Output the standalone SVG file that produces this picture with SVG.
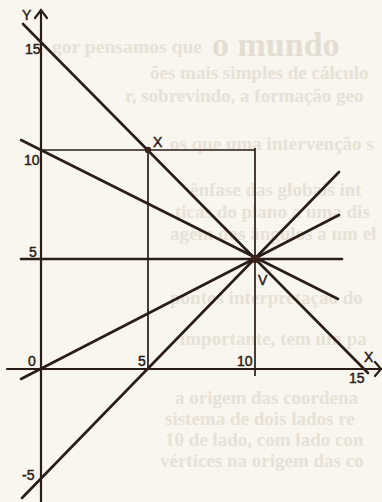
<svg xmlns="http://www.w3.org/2000/svg" width="382" height="502" viewBox="0 0 382 502">
  <style>
    .bg { fill: #f9f6ef; }
    .ghost { font-family: "Liberation Serif", serif; font-size: 19px; font-weight: bold; fill: #e7e1d6; }
    .ghostbig { font-family: "Liberation Serif", serif; font-size: 34px; font-weight: bold; fill: #e4ddd1; }
    .axis { stroke: #2a1c16; stroke-width: 2.2; fill: none; stroke-linecap: round; }
    .ray { stroke: #2a1c16; stroke-width: 2.6; fill: none; stroke-linecap: round; }
    .guide { stroke: #2a1c16; stroke-width: 1.7; fill: none; }
    .lbl { font-family: "Liberation Sans", "DejaVu Sans", sans-serif; font-size: 14px; fill: #2a1c16; stroke: #2a1c16; stroke-width: 0.45; }
    .dot { fill: #3a2218; }
  </style>
  <rect class="bg" x="0" y="0" width="382" height="502"/>

  <g id="bleed-through">
    <text class="ghostbig" x="212" y="56">o mundo</text>
    <text class="ghost" x="52" y="53" textLength="150" lengthAdjust="spacingAndGlyphs">gor pensamos que</text>
    <text class="ghost" x="150" y="79">ões mais simples de cálculo</text>
    <text class="ghost" x="125" y="102">r, sobrevindo, a formação geo</text>
    <text class="ghost" x="170" y="150">os que uma intervenção s</text>
    <text class="ghost" x="190" y="196">ênfase das globais int</text>
    <text class="ghost" x="175" y="218">ticas do plano a uma dis</text>
    <text class="ghost" x="170" y="240">agem dos ângulos a um el</text>
    <text class="ghost" x="170" y="304">pontos interpretação do</text>
    <text class="ghost" x="180" y="345">importante, tem um pa</text>
    <text class="ghost" x="175" y="404">a origem das coordena</text>
    <text class="ghost" x="165" y="425">sistema de dois lados re</text>
    <text class="ghost" x="165" y="446">10 de lado, com lado con</text>
    <text class="ghost" x="160" y="467">vértices na origem das co</text>
  </g>

  <g id="axes">
    <line class="axis" x1="41" y1="10" x2="41" y2="502"/>
    <polyline class="axis" points="35,18 41,10 47,18"/>
    <line class="axis" x1="7" y1="369" x2="381" y2="369"/>
    <polyline class="axis" points="375,362 381,369 375,376"/>
  </g>

  <g id="guides">
    <line class="guide" x1="41" y1="150" x2="255" y2="150"/>
    <line class="guide" x1="148" y1="150" x2="148" y2="369"/>
    <line class="guide" x1="255" y1="148" x2="255" y2="376"/>
  </g>

  <g id="connectors">
    <line class="ray" x1="23" y1="24" x2="368" y2="373"/>
    <line class="ray" x1="21" y1="140" x2="338" y2="299"/>
    <line class="ray" x1="21" y1="259" x2="342" y2="259"/>
    <line class="ray" x1="21" y1="379" x2="339" y2="215"/>
    <line class="ray" x1="22" y1="498" x2="339" y2="172"/>
  </g>

  <g id="point-X">
    <circle class="dot" cx="148" cy="150" r="3.2"/>
    <text class="lbl" x="153" y="147">X</text>
  </g>
  <g id="point-V">
    <circle class="dot" cx="255" cy="259" r="4"/>
    <text class="lbl" x="258" y="285" font-size="13">V</text>
  </g>

  <g id="labels">
    <text class="lbl" x="22" y="20" font-size="13">Y</text>
    <text class="lbl" x="25" y="54">15</text>
    <text class="lbl" x="24" y="165">10</text>
    <text class="lbl" x="29" y="257">5</text>
    <text class="lbl" x="28" y="366">0</text>
    <text class="lbl" x="22" y="480">-5</text>
    <text class="lbl" x="138" y="366">5</text>
    <text class="lbl" x="237" y="366">10</text>
    <text class="lbl" x="349" y="383">15</text>
    <text class="lbl" x="364" y="362" font-size="12">X</text>
  </g>
</svg>
